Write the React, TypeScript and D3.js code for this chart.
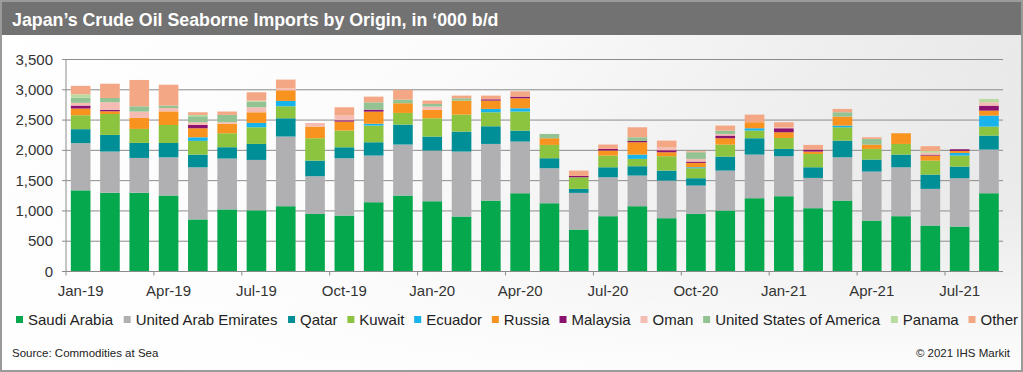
import React from "react";
import * as d3 from "d3";

const months = [
  "Jan-19","Feb-19","Mar-19","Apr-19","May-19","Jun-19","Jul-19","Aug-19","Sep-19","Oct-19","Nov-19","Dec-19",
  "Jan-20","Feb-20","Mar-20","Apr-20","May-20","Jun-20","Jul-20","Aug-20","Sep-20","Oct-20","Nov-20","Dec-20",
  "Jan-21","Feb-21","Mar-21","Apr-21","May-21","Jun-21","Jul-21","Aug-21",
];
const tickLabels = ["Jan-19","Apr-19","Jul-19","Oct-19","Jan-20","Apr-20","Jul-20","Oct-20","Jan-21","Apr-21","Jul-21"];
const yTicks = [0, 500, 1000, 1500, 2000, 2500, 3000, 3500];

const saudiArabia = [1340,1300,1300,1255,860,1025,1010,1078,950,924,1144,1254,1160,908,1171,1292,1127,693,913,1078,880,951,1006,1210,1243,1045,1171,841,913,759,742,1292];
const uae =         [780,680,575,630,860,840,832,1150,623,946,770,842,837,1072,935,853,578,605,643,506,621,468,660,720,660,500,715,809,808,605,798,721];
const qatar =       [230,275,248,237,210,187,264,302,258,181,220,330,231,330,292,181,165,66,165,154,165,121,231,270,121,176,275,198,209,236,192,231];
const kuwait =      [230,345,231,297,226,231,275,198,369,275,275,192,302,280,231,314,220,192,193,121,237,165,198,126,181,220,220,176,176,231,182,148];
const ecuador =     [0,0,0,0,60,0,72,88,0,0,30,0,0,0,55,55,0,0,0,71,0,16,0,39,0,0,28,0,0,0,44,182];
const russia =      [110,45,181,225,149,154,176,176,192,149,200,160,138,231,137,165,110,0,83,204,66,72,105,99,94,39,148,71,176,83,33,82];
const malaysia =    [50,25,0,0,55,0,0,0,0,22,33,0,0,0,22,27,0,22,27,22,33,22,44,0,66,33,0,0,0,15,27,82];
const oman =        [45,125,105,55,44,28,82,33,60,77,0,0,55,0,0,0,0,0,0,0,50,44,27,0,16,0,0,0,0,30,0,56];
const usa =         [85,70,88,40,99,121,94,0,0,0,121,60,44,39,0,0,71,0,0,60,0,110,55,0,0,0,72,94,0,0,0,0];
const panama =      [55,0,0,0,22,0,15,0,0,0,0,0,0,0,0,0,0,0,0,0,0,0,0,0,0,0,0,0,0,30,0,55];
const other =       [140,235,434,345,44,55,139,143,0,137,94,160,55,44,61,88,0,88,72,165,109,16,83,126,83,77,55,27,0,80,0,0];

const seriesNames = ["Saudi Arabia","United Arab Emirates","Qatar","Kuwait","Ecuador","Russia","Malaysia","Oman","United States of America","Panama","Other"];
const seriesValues = [saudiArabia, uae, qatar, kuwait, ecuador, russia, malaysia, oman, usa, panama, other];
const seriesColors = ["#06a84d","#b0b0b3","#008f97","#8cc43f","#19b3ec","#f7931e","#8c1270","#f5bcb4","#93c293","#b8dca0","#f4a784"];

const FONT = "'Liberation Sans', Arial, sans-serif";

function measure(text: string, size: number) {
  const c = document.createElement("canvas").getContext("2d");
  if (!c) return text.length * size * 0.5;
  c.font = `${size}px 'Liberation Sans', Arial`;
  return c.measureText(text).width;
}

export default function App() {
  const W = 1023, H = 372;
  const x = d3.scaleBand<string>().domain(months).range([66, 1003.6]).paddingInner(0.33).paddingOuter(0.165);
  const y = d3.scaleLinear().domain([0, 3500]).range([271.5, 59.5]);

  const rows = months.map((m, i) => {
    const r: any = { month: m };
    seriesNames.forEach((s, j) => (r[s] = seriesValues[j][i]));
    return r;
  });
  const stacked = d3.stack().keys(seriesNames)(rows);
  const fmt = d3.format(",");

  // legend layout
  const legendSize = 15;
  let lx = 16;
  const legendItems = seriesNames.map((name, i) => {
    const w = measure(name, legendSize);
    const item = { name, color: seriesColors[i], x: lx, w };
    lx += 7 + 5 + w + 9.8;
    return item;
  });

  const tickXs = months.map((m, i) => ({ m, i })).filter((d) => d.i % 3 === 0);

  return (
    <svg width={W} height={H} style={{ position: "absolute", left: 0, top: 0, fontFamily: FONT }}>
      <defs>
        <linearGradient id="bg" x1="0" y1="0" x2="1" y2="0.35">
          <stop offset="0" stopColor="#ffffff" />
          <stop offset="0.45" stopColor="#fbfbfb" />
          <stop offset="0.75" stopColor="#eeeeee" />
          <stop offset="1" stopColor="#e6e6e6" />
        </linearGradient>
        <linearGradient id="fade" x1="0" y1="0" x2="0" y2="1">
          <stop offset="0" stopColor="#ffffff" stopOpacity="0" />
          <stop offset="0.55" stopColor="#ffffff" stopOpacity="0.2" />
          <stop offset="1" stopColor="#ffffff" stopOpacity="0.9" />
        </linearGradient>
      </defs>
      <rect x={0} y={0} width={W} height={H} fill="#9a9a9a" />
      <rect x={2} y={2} width={W - 4} height={H - 4} fill="url(#bg)" />
      <rect x={2} y={2} width={W - 4} height={H - 4} fill="url(#fade)" />
      <rect x={2} y={2} width={W - 4} height={33} fill="#727272" />
      <text x={12} y={26} fill="#ffffff" fontSize={17.8} fontWeight="bold">
        Japan’s Crude Oil Seaborne Imports by Origin, in ‘000 b/d
      </text>

      {/* gridlines */}
      {yTicks.map((t) => (
        <g key={t}>
          <line x1={62} x2={1003} y1={y(t)} y2={y(t)} stroke={t === 0 ? "#8a8a8a" : "#8c8c8c"} strokeWidth={1} />
          <text x={53} y={y(t) + 5} textAnchor="end" fontSize={15} fill="#333">
            {fmt(t)}
          </text>
        </g>
      ))}
      <line x1={66} x2={66} y1={y(3500)} y2={y(0)} stroke="#8c8c8c" />

      {/* bars */}
      {stacked.map((s, j) => (
        <g key={s.key} fill={seriesColors[j]}>
          {s.map((d, i) =>
            d[1] - d[0] > 0 ? (
              <rect
                key={i}
                x={x(months[i])}
                width={x.bandwidth()}
                y={y(d[1])}
                height={y(d[0]) - y(d[1])}
              />
            ) : null
          )}
        </g>
      ))}

      {/* x axis */}
      <line x1={66} x2={1003} y1={y(0)} y2={y(0)} stroke="#8a8a8a" />
      {tickXs.map(({ m, i }) => {
        const bx = (x(m) as number) - (x.step() * x.paddingInner()) / 2;
        return <line key={m} x1={bx} x2={bx} y1={y(0)} y2={y(0) + 4} stroke="#8a8a8a" />;
      })}
      {tickLabels.map((lab) => (
        <text key={lab} x={(x(lab) as number) + x.bandwidth() / 2} y={296} textAnchor="middle" fontSize={15} fill="#333">
          {lab}
        </text>
      ))}

      {/* legend */}
      {legendItems.map((it) => (
        <g key={it.name}>
          <rect x={it.x} y={316} width={7} height={7} fill={it.color} />
          <text x={it.x + 12} y={324.5} fontSize={legendSize} fill="#222">
            {it.name}
          </text>
        </g>
      ))}

      <text x={12} y={357} fontSize={11.5} fill="#222">Source: Commodities at Sea</text>
      <text x={1010} y={357} fontSize={11.5} fill="#222" textAnchor="end">© 2021 IHS Markit</text>
    </svg>
  );
}
